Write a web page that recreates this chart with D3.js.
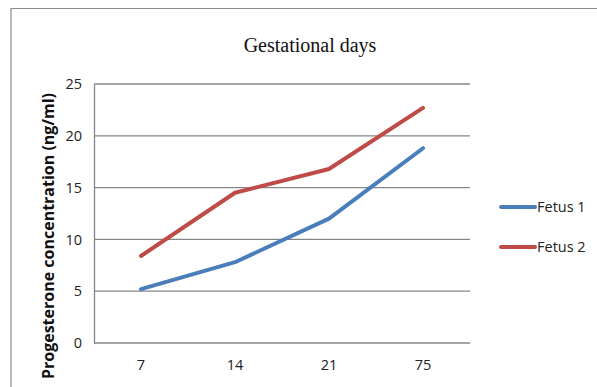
<!DOCTYPE html>
<html>
<head>
<meta charset="utf-8">
<script src="https://cdn.jsdelivr.net/npm/d3@7"></script>
<style>
  body { margin: 0; background: #fff; }
  svg { display: block; }
</style>
</head>
<body>
<div id="chart"></div>
<script>
// chart data
const days = ["7", "14", "21", "75"];
const fetus1 = [5.2, 7.8, 12.0, 18.8];
const fetus2 = [8.4, 14.5, 16.8, 22.7];
const yTicks = [0, 5, 10, 15, 20, 25];
const seriesNames = ["Fetus 1", "Fetus 2"];
const seriesColors = ["#4a7ebb", "#be4b48"];

const width = 597, height = 387;
const plot = { left: 94, right: 470, top: 84, bottom: 343 };

const svg = d3.select("#chart").append("svg")
    .attr("width", width)
    .attr("height", height);

// outer frame (only top and left edges are in view)
svg.append("path")
    .attr("d", `M11,${height} V8.5 H${width}`)
    .attr("fill", "none")
    .attr("stroke", "#8c8c8c")
    .attr("stroke-width", 1.2);

const x = d3.scaleBand()
    .domain(days)
    .range([plot.left, plot.right]);

const y = d3.scaleLinear()
    .domain([0, 25])
    .range([plot.bottom, plot.top]);

// gridlines
svg.append("g")
    .selectAll("line")
    .data(yTicks)
    .join("line")
    .attr("x1", plot.left)
    .attr("x2", plot.right)
    .attr("y1", d => y(d))
    .attr("y2", d => y(d))
    .attr("stroke", "#868686")
    .attr("stroke-width", 1.3);

// y axis
const yAxis = svg.append("g")
    .attr("transform", `translate(${plot.left},0)`)
    .call(d3.axisLeft(y).tickValues(yTicks).tickSize(0).tickPadding(12));
yAxis.select(".domain").attr("stroke", "#868686").attr("stroke-width", 1.3);
yAxis.selectAll("text")
    .attr("font-family", "'Open Sans', sans-serif")
    .attr("font-size", 14.5)
    .attr("fill", "#222");

// x axis labels
const xAxis = svg.append("g")
    .attr("transform", `translate(0,${plot.bottom})`)
    .call(d3.axisBottom(x).tickSize(0).tickPadding(17));
xAxis.select(".domain").remove();
xAxis.selectAll("text")
    .attr("font-family", "'Open Sans', sans-serif")
    .attr("font-size", 14.5)
    .attr("fill", "#222");

// lines
const line = d3.line()
    .x((d, i) => x(days[i]) + x.bandwidth() / 2)
    .y(d => y(d));

[fetus1, fetus2].forEach((s, i) => {
    svg.append("path")
        .datum(s)
        .attr("d", line)
        .attr("fill", "none")
        .attr("stroke", seriesColors[i])
        .attr("stroke-width", 4)
        .attr("stroke-linecap", "round")
        .attr("stroke-linejoin", "round");
});

// title
svg.append("text")
    .attr("x", 310)
    .attr("y", 52)
    .attr("text-anchor", "middle")
    .attr("font-family", "'Liberation Serif', 'Times New Roman', serif")
    .attr("font-size", 20)
    .attr("fill", "#111")
    .text("Gestational days");

// y axis title
svg.append("text")
    .attr("transform", "translate(54,236) rotate(-90)")
    .attr("text-anchor", "middle")
    .attr("font-family", "'Open Sans', sans-serif")
    .attr("font-weight", "bold")
    .attr("font-size", 16)
    .attr("fill", "#111")
    .text("Progesterone concentration (ng/ml)");

// legend
const legend = svg.append("g")
    .selectAll("g")
    .data(seriesNames)
    .join("g")
    .attr("transform", (d, i) => `translate(501,${207 + i * 40})`);
legend.append("line")
    .attr("x1", 0)
    .attr("x2", 34)
    .attr("stroke", (d, i) => seriesColors[i])
    .attr("stroke-width", 4)
    .attr("stroke-linecap", "round");
legend.append("text")
    .attr("x", 36)
    .attr("dy", "0.35em")
    .attr("font-family", "'Open Sans', sans-serif")
    .attr("font-size", 14.5)
    .attr("fill", "#222")
    .text(d => d);
</script>
</body>
</html>
